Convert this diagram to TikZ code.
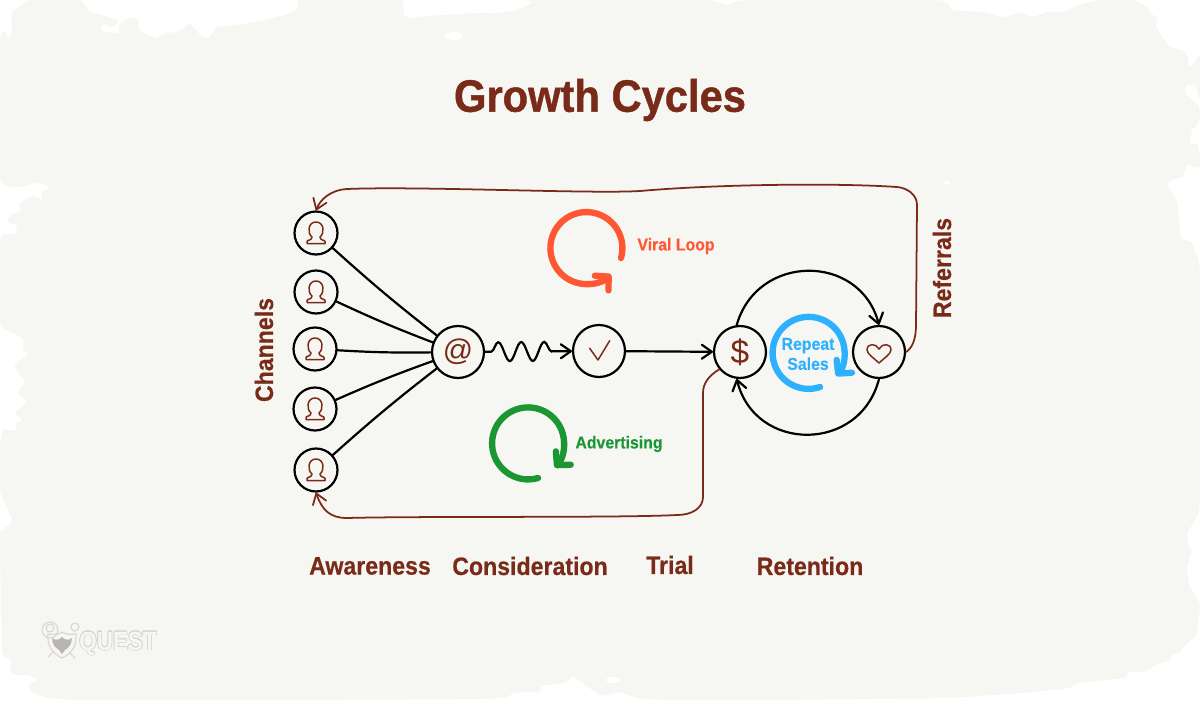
\documentclass[tikz,border=0pt]{standalone}
\usepackage{fontspec}
\usepackage{contour}
\setmainfont{Liberation Sans}
\newfontfamily\heavyfont[FakeBold=1]{Liberation Sans Bold}
\newfontfamily\semifont[FakeBold=0.4]{Liberation Sans Bold}
\usetikzlibrary{arrows.meta,decorations.pathmorphing}
\definecolor{questbg}{RGB}{246,246,242}
\definecolor{questbrown}{RGB}{122,42,24}
\definecolor{viralred}{RGB}{255,87,51}
\definecolor{adgreen}{RGB}{26,150,50}
\definecolor{salesblue}{RGB}{45,177,255}
\definecolor{logogray}{RGB}{216,212,208}
\newcommand{\narrow}[1]{\scalebox{0.92}[1]{#1}}
\tikzset{
  chan/.style={circle, draw=black, line width=1.25pt, fill=questbg, inner sep=0pt, minimum size=0.86cm},
  stage/.style={circle, draw=black, line width=1.25pt, fill=questbg, inner sep=0pt, minimum size=1.04cm,
                text=questbrown},
  wire/.style={black, line width=1.25pt, line cap=round},
  wirearr/.style={wire, -{Straight Barb[length=2mm,width=2.8mm,round]}},
  loopline/.style={questbrown, line width=1pt, line cap=round},
  looparr/.style={loopline, -{Straight Barb[length=2mm,width=2.8mm,round]}},
  icon/.style={questbrown, line width=0.85pt, line join=round, line cap=round},
  spiral/.style={line width=3.6pt, line cap=round, -{Straight Barb[length=1.9mm,width=4mm,round]}},
  stagelab/.style={font=\fontsize{14.3}{16}\selectfont\semifont, text=questbrown, inner sep=0pt},
  sidelab/.style={stagelab, rotate=90},
  looplab/.style={font=\fontsize{9.8}{11.4}\selectfont\semifont, inner sep=0pt, align=center},
  pics/person/.style={code={
    \draw[icon] (-9,10.5) -- (9,10.5) -- (9,8.5) .. controls (9,7) and (4,7.5) .. (4,4)
      .. controls (9,0) and (8,-11) .. (0,-11) .. controls (-8,-11) and (-9,0) .. (-4,4)
      .. controls (-4,7.5) and (-9,7) .. (-9,8.5) -- cycle;}},
  pics/tickmark/.style={code={
    \draw[icon] (-9.3,-2.7) -- (-1,9) -- (10.7,-10.3);}},
  pics/heartmark/.style={code={
    \draw[icon] (0,-3) .. controls (-3,-9) and (-12,-9) .. (-12,-2) .. controls (-12,2) and (-4,7) .. (0,11)
      .. controls (4,7) and (12,2) .. (12,-2) .. controls (12,-9) and (3,-9) .. (0,-3) -- cycle;}},
}
\begin{document}
\begin{tikzpicture}[x=0.02cm,y=-0.02cm]
  \useasboundingbox (0,0) rectangle (1200,700);
  \fill[white] (0,0) rectangle (1200,700);
  % torn paper
  \fill[questbg] plot[smooth cycle,tension=0.35] coordinates {
    (33,0) (78,0) (86,6) (90,12) (118,20) (112,27) (103,24) (102,31) (118,33) (120,24) (132,17)
    (138,20) (139,30) (150,36) (157,38) (165,33) (178,32) (190,24) (200,35) (208,38) (215,30)
    (218,27) (250,23) (285,15) (298,8) (302,0) (398,0) (403,5) (404,15) (412,18) (425,16) (445,15)
    (478,13) (497,13) (517,10) (532,3) (536,0) (703,0) (726,5) (751,0) (935,0) (952,10) (983,12)
    (1002,17) (1021,13) (1032,17) (1048,12) (1063,12) (1078,5) (1101,0) (1132,0) (1147,7) (1150,13)
    (1157,18) (1156,27) (1160,33) (1170,47) (1183,51) (1188,58) (1188,67) (1195,62) (1200,56)
    (1200,98) (1195,85) (1187,85) (1185,92) (1188,96) (1198,105) (1200,116) (1197,125) (1192,130)
    (1190,143) (1198,145) (1200,167) (1187,165) (1183,176) (1170,181) (1168,187) (1177,203)
    (1180,232) (1182,239) (1192,243) (1195,252) (1200,277) (1200,495) (1195,520) (1188,531)
    (1188,545) (1192,550) (1187,567) (1190,587) (1197,598) (1200,607) (1196,635) (1188,642)
    (1180,652) (1172,655) (1170,660) (1155,665) (1145,672) (1128,672) (1124,678) (1078,683)
    (1069,688) (1021,693) (940,698) (768,700) (669,700) (638,698) (629,695) (619,692) (600,695)
    (574,677) (566,682) (551,685) (541,685) (540,692) (528,692) (513,693) (478,699) (88,700)
    (38,695) (30,688) (31,682) (36,682) (36,678) (27,675) (15,675) (10,670) (11,660) (6,657)
    (2,647) (0,545) (0,533) (12,520) (0,491) (0,446) (3,430) (8,430) (17,430) (15,424) (22,420)
    (15,413) (27,402) (18,393) (25,382) (20,375) (15,366) (28,353) (23,350) (23,339) (13,333)
    (3,328) (0,317) (0,245) (3,234) (15,234) (17,225) (8,222) (12,214) (20,212) (20,203) (33,196)
    (42,199) (42,192) (50,187) (37,183) (20,187) (5,185) (0,172) (0,45) (4,31) (8,37) (12,31)
    (12,13) (23,4)};
  \fill[white] (454,36) ellipse (9 and 4);
  \fill[white] (613,680) ellipse (7 and 3);
  \fill[white] (947,183) ellipse (3 and 2);

  \node[font=\fontsize{25.8}{28}\selectfont\heavyfont, text=questbrown, inner sep=0pt] (title) at (600,100)
    {\narrow{Growth Cycles}};

  % funnel stages
  \node[chan] (ch1) at (316,233) {};
  \node[chan] (ch2) at (316,292) {};
  \node[chan] (ch3) at (315,349) {};
  \node[chan] (ch4) at (315,409) {};
  \node[chan] (ch5) at (316,470) {};
  \node[stage, font=\fontsize{17}{17}\selectfont] (mail) at (458,352) {@};
  \node[stage] (tick) at (599,351) {};
  \node[stage, font=\fontsize{19}{19}\selectfont] (dollar) at (740,352) {\$};
  \node[stage] (heart) at (879,352) {};
  \pic at (ch1) {person};
  \pic at (ch2) {person};
  \pic at (ch3) {person};
  \pic at (ch4) {person};
  \pic at (ch5) {person};
  \pic at (tick) {tickmark};
  \pic at (heart) {heartmark};

  \draw[wire] (ch1) to[bend right=2] (mail);
  \draw[wire] (ch2) to[bend right=2] (mail);
  \draw[wire] (ch3) to[bend right=2] (mail);
  \draw[wire] (ch4) to[bend left=2] (mail);
  \draw[wire] (ch5) to[bend left=2] (mail);
  \draw[wirearr, decorate, decoration={snake, amplitude=1.9mm, segment length=4.6mm, pre length=1.2mm, post length=2mm}] (mail) -- (tick);
  \draw[wirearr] (tick) -- (dollar);
  \draw[wirearr] (dollar.97) .. controls (757,253) and (860,253) .. (heart.north);
  \draw[wirearr] (heart.south) .. controls (860,453) and (755,453) .. (dollar.263);

  % long return lines
  \draw[looparr] (heart.east) .. controls (912,348) and (916,340) .. (916,325)
    -- (917,205) .. controls (917,195) and (908,188) .. (897,187)
    .. controls (840,183) and (720,184) .. (640,191)
    .. controls (590,194) and (420,186) .. (347,189)
    .. controls (330,190) and (320,200) .. (ch1.north);
  \draw[looparr] (dollar.220) .. controls (708,376) and (703,384) .. (703,393)
    -- (703,497) .. controls (703,508) and (692,515) .. (677,515)
    .. controls (620,518) and (420,516) .. (347,518)
    .. controls (330,518) and (322,510) .. (ch5.south);

  % loop marks
  \draw[spiral, viralred] (621,258) arc[start angle=16, end angle=-313, radius=36];
  \draw[spiral, adgreen] (538,478) arc[start angle=74, end angle=402, radius=36];
  \draw[spiral, salesblue] (820,387) arc[start angle=71.5, end angle=400, radius=36];
  \node[looplab, text=viralred] (viral) at (676,246) {\narrow{Viral Loop}};
  \node[looplab, text=adgreen] (ads) at (619,444) {\narrow{Advertising}};
  \node[looplab, text=salesblue] (sales) at (808,354) {\narrow{Repeat}\\\narrow{Sales}};

  % captions
  \node[sidelab] (channels) at (264,350) {\narrow{Channels}};
  \node[sidelab] (referrals) at (942,268) {\narrow{Referrals}};
  \node[stagelab] (aware) at (370,566) {\narrow{Awareness}};
  \node[stagelab] (consider) at (530,566) {\narrow{Consideration}};
  \node[stagelab] (trial) at (670,565) {\narrow{Trial}};
  \node[stagelab] (retain) at (810,566) {\narrow{Retention}};

  % logo
  \draw[logogray, line width=0.6pt, line cap=round] (48,657) -- (72,634);
  \draw[logogray, line width=0.6pt, line cap=round] (75,658) -- (52,636);
  \draw[logogray, line width=0.6pt, fill=questbg] (48,634) .. controls (56,635) and (60,634) .. (62,632)
    .. controls (65,634) and (70,635) .. (76,634) .. controls (77,646) and (72,653) .. (62,658)
    .. controls (52,653) and (47,646) .. (48,634) -- cycle;
  \fill[logogray!85!black] (62,637) .. controls (65,641) and (70,640) .. (72,638)
    .. controls (72,645) and (68,648) .. (65,650) -- (62,654) -- (59,650)
    .. controls (56,648) and (52,645) .. (52,638) .. controls (54,640) and (59,641) .. (62,637) -- cycle;
  \draw[logogray, line width=0.6pt] (50,630) circle (8);
  \draw[logogray, line width=0.6pt] (50,628) circle (4);
  \draw[logogray, line width=0.6pt] (75,627) circle (4);
  \contourlength{0.4pt}
  \node[font=\fontsize{15}{15}\selectfont\bfseries, inner sep=0pt] (quest) at (118,644)
    {\scalebox{0.85}[1]{\contour{logogray}{\textcolor{questbg}{QUEST}}}};
\end{tikzpicture}
\end{document}
